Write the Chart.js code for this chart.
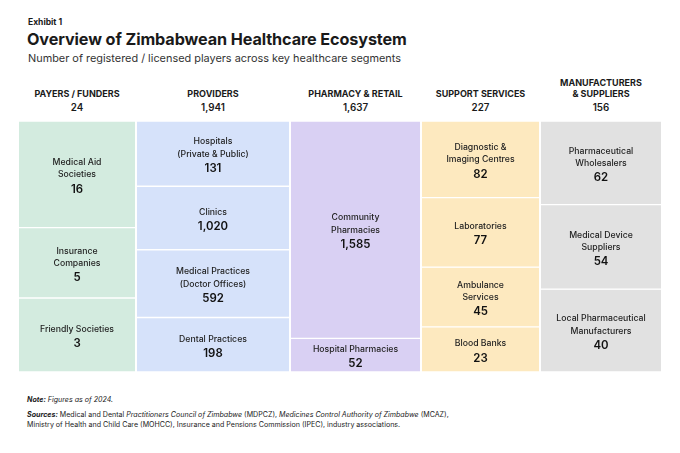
<!DOCTYPE html>
<html>
<head>
<meta charset="utf-8">
<script src="https://cdn.jsdelivr.net/npm/chart.js@4.4.1/dist/chart.umd.min.js"></script>
<style>
  body { margin: 0; background: #fff; font-family: Inter, "Noto Sans", sans-serif; color: #1a1a1a; }
  #page { position: relative; width: 680px; height: 453px; overflow: hidden; }
  .abs { position: absolute; white-space: nowrap; }
  #exhibit { left: 28px; top: 17px; font-size: 8.5px; font-weight: 700; }
  #title { left: 27px; top: 29px; font-size: 16.2px; font-weight: 700; letter-spacing: -0.1px; }
  #subtitle { left: 28px; top: 51px; font-size: 10.9px; color: #333; }
  .row { position: absolute; left: 19px; display: flex; gap: 2px; }
  #heads { top: 76px; height: 38px; }
  .head { text-align: center; display: flex; flex-direction: column; justify-content: flex-end; }
  .head .name { font-size: 9px; font-weight: 700; line-height: 11px; white-space: pre-line; }
  .head .total { font-size: 9.8px; font-weight: 600; margin-top: 3px; line-height: 12px; }
  #blocks { top: 121px; height: 251px; }
  .notes { left: 27px; font-size: 7.1px; color: #222; }
</style>
</head>
<body>
<div id="page">
  <div id="exhibit" class="abs">Exhibit 1</div>
  <div id="title" class="abs">Overview of Zimbabwean Healthcare Ecosystem</div>
  <div id="subtitle" class="abs">Number of registered / licensed players across key healthcare segments</div>
  <div id="heads" class="row"></div>
  <div id="blocks" class="row"></div>
  <div class="abs notes" style="top:395px"><b><i>Note:</i></b> <i>Figures as of 2024.</i></div>
  <div class="abs notes" style="top:410px"><b><i>Sources:</i></b> Medical and Dental <i>Practitioners Council of Zimbabwe</i> (MDPCZ), <i>Medicines Control Authority of Zimbabwe</i> (MCAZ),</div>
  <div class="abs notes" style="top:420px">Ministry of Health and Child Care (MOHCC), Insurance and Pensions Commission (IPEC), industry associations.</div>
</div>
<script>
// segment groups and their totals
const groups = ['PAYERS / FUNDERS', 'PROVIDERS', 'PHARMACY & RETAIL', 'SUPPORT SERVICES', 'MANUFACTURERS\n& SUPPLIERS'];
const groupTotals = [24, 1941, 1637, 227, 156];

// players per segment (counts), plus the share of the column each block takes in the picture
const payerNames = ['Medical Aid\nSocieties', 'Insurance\nCompanies', 'Friendly Societies'];
const payerCounts = [16, 5, 3];
const payerShares = [42.5, 28, 29.5];

const providerNames = ['Hospitals\n(Private & Public)', 'Clinics', 'Medical Practices\n(Doctor Offices)', 'Dental Practices'];
const providerCounts = [131, 1020, 592, 198];
const providerShares = [26, 25.3, 27, 21.7];

const pharmacyNames = ['Community\nPharmacies', 'Hospital Pharmacies'];
const pharmacyCounts = [1585, 52];
const pharmacyShares = [86.6, 13.4];

const supportNames = ['Diagnostic &\nImaging Centres', 'Laboratories', 'Ambulance\nServices', 'Blood Banks'];
const supportCounts = [82, 77, 45, 23];
const supportShares = [30.5, 27.7, 23.8, 18];

const makerNames = ['Pharmaceutical\nWholesalers', 'Medical Device\nSuppliers', 'Local Pharmaceutical\nManufacturers'];
const makerCounts = [62, 54, 40];
const makerShares = [33.3, 33.7, 33];

const colors = ['#d3ebdf', '#d6e2fa', '#d9d0f3', '#fde9bf', '#e1e1e1'];
const colWidths = [116, 152, 129, 117, 120];

const columns = [
  [payerNames, payerCounts, payerShares],
  [providerNames, providerCounts, providerShares],
  [pharmacyNames, pharmacyCounts, pharmacyShares],
  [supportNames, supportCounts, supportShares],
  [makerNames, makerCounts, makerShares]
];

const fmt = v => v.toLocaleString('en-US');

// write name + count in the middle of every block
const blockLabels = {
  id: 'blockLabels',
  afterDatasetsDraw(chart) {
    const ctx = chart.ctx;
    chart.data.datasets.forEach((ds, i) => {
      const bar = chart.getDatasetMeta(i).data[0];
      const p = bar.getProps(['x', 'y', 'base'], true);
      const lines = ds.label.split('\n');
      const lh = 12.3, gap = 14.5;
      const top = (p.y + p.base) / 2 + 1.5 - ((lines.length - 1) * lh + gap) / 2;
      ctx.save();
      ctx.textAlign = 'center';
      ctx.textBaseline = 'middle';
      ctx.fillStyle = '#222';
      ctx.font = '500 8.7px Inter';
      lines.forEach((l, k) => ctx.fillText(l, p.x, top + k * lh));
      ctx.fillStyle = '#111';
      ctx.font = '600 11.4px Inter';
      ctx.fillText(fmt(ds.count), p.x, top + (lines.length - 1) * lh + gap);
      ctx.restore();
    });
  }
};

const heads = document.getElementById('heads');
const blocks = document.getElementById('blocks');

columns.forEach(([names, counts, shares], c) => {
  const h = document.createElement('div');
  h.className = 'head';
  h.style.width = colWidths[c] + 'px';
  h.innerHTML = '<div class="name"></div><div class="total"></div>';
  h.querySelector('.name').textContent = groups[c];
  h.querySelector('.total').textContent = fmt(groupTotals[c]);
  heads.appendChild(h);

  const canvas = document.createElement('canvas');
  canvas.width = colWidths[c];
  canvas.height = 251;
  canvas.style.width = colWidths[c] + 'px';
  canvas.style.height = '251px';
  blocks.appendChild(canvas);

  new Chart(canvas, {
    type: 'bar',
    data: {
      labels: [groups[c]],
      datasets: names.map((n, k) => ({
        label: n,
        count: counts[k],
        data: [shares[k]],
        backgroundColor: colors[c],
        borderColor: '#ffffff',
        borderWidth: { top: 1, bottom: 1, left: 0, right: 0 },
        borderSkipped: false,
        barPercentage: 1,
        categoryPercentage: 1
      }))
    },
    options: {
      responsive: false,
      animation: false,
      layout: { padding: 0 },
      plugins: { legend: { display: false }, tooltip: { enabled: false } },
      scales: {
        x: { stacked: true, display: false },
        y: { stacked: true, display: false, min: 0, max: 100, reverse: true }
      }
    },
    plugins: [blockLabels]
  });
});
</script>
</body>
</html>
